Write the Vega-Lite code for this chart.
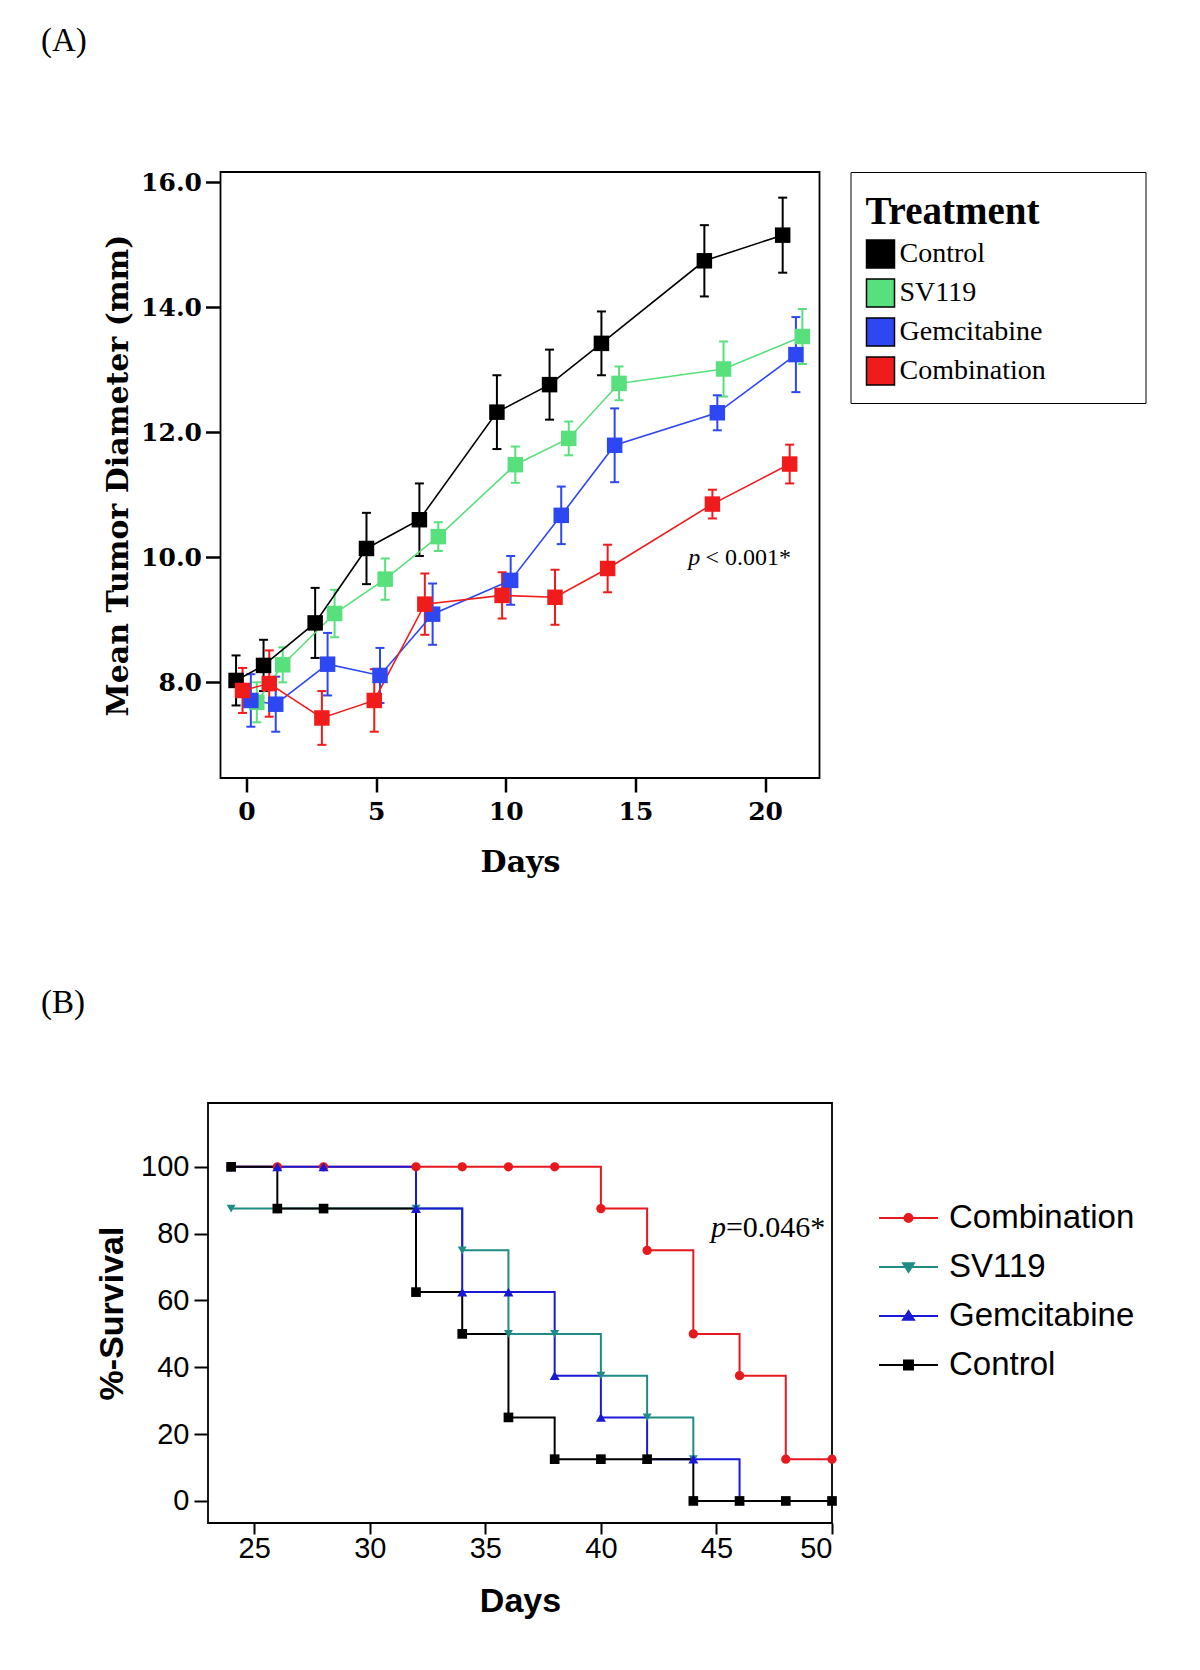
{
  "$schema": "https://vega.github.io/schema/vega-lite/v6.json",
  "background": "white",
  "padding": {"left": 40, "top": 24, "right": 0, "bottom": 10},
  "config": {
    "view": {"stroke": "black", "strokeWidth": 1.8},
    "axis": {"grid": false, "domain": false, "tickColor": "black", "labelColor": "black", "titleColor": "black"}
  },
  "datasets": {
    "tumor": [
      {"treat": "Control", "day": -0.4, "mean": 8.03, "lo": 7.63, "hi": 8.43},
      {"treat": "Control", "day": 0.66, "mean": 8.27, "lo": 7.86, "hi": 8.68},
      {"treat": "Control", "day": 2.65, "mean": 8.95, "lo": 8.39, "hi": 9.51},
      {"treat": "Control", "day": 4.63, "mean": 10.14, "lo": 9.57, "hi": 10.71},
      {"treat": "Control", "day": 6.67, "mean": 10.6, "lo": 10.02, "hi": 11.18},
      {"treat": "Control", "day": 9.66, "mean": 12.32, "lo": 11.73, "hi": 12.91},
      {"treat": "Control", "day": 11.69, "mean": 12.76, "lo": 12.2, "hi": 13.32},
      {"treat": "Control", "day": 13.69, "mean": 13.42, "lo": 12.91, "hi": 13.93},
      {"treat": "Control", "day": 17.66, "mean": 14.74, "lo": 14.17, "hi": 15.31},
      {"treat": "Control", "day": 20.68, "mean": 15.15, "lo": 14.55, "hi": 15.75},
      {"treat": "SV119", "day": 0.4, "mean": 7.68, "lo": 7.36, "hi": 8.0},
      {"treat": "SV119", "day": 1.4, "mean": 8.28, "lo": 8.0, "hi": 8.56},
      {"treat": "SV119", "day": 3.4, "mean": 9.1, "lo": 8.72, "hi": 9.48},
      {"treat": "SV119", "day": 5.35, "mean": 9.65, "lo": 9.32, "hi": 9.98},
      {"treat": "SV119", "day": 7.4, "mean": 10.33, "lo": 10.1, "hi": 10.56},
      {"treat": "SV119", "day": 10.37, "mean": 11.48, "lo": 11.19, "hi": 11.77},
      {"treat": "SV119", "day": 12.43, "mean": 11.9, "lo": 11.63, "hi": 12.17},
      {"treat": "SV119", "day": 14.37, "mean": 12.78, "lo": 12.51, "hi": 13.05},
      {"treat": "SV119", "day": 18.4, "mean": 13.01, "lo": 12.57, "hi": 13.45},
      {"treat": "SV119", "day": 21.44, "mean": 13.53, "lo": 13.09, "hi": 13.97},
      {"treat": "Gemcitabine", "day": 0.17, "mean": 7.71, "lo": 7.29, "hi": 8.13},
      {"treat": "Gemcitabine", "day": 1.13, "mean": 7.65, "lo": 7.21, "hi": 8.09},
      {"treat": "Gemcitabine", "day": 3.13, "mean": 8.29, "lo": 7.79, "hi": 8.79},
      {"treat": "Gemcitabine", "day": 5.15, "mean": 8.11, "lo": 7.67, "hi": 8.55},
      {"treat": "Gemcitabine", "day": 7.18, "mean": 9.09, "lo": 8.6, "hi": 9.58},
      {"treat": "Gemcitabine", "day": 10.19, "mean": 9.63, "lo": 9.24, "hi": 10.02},
      {"treat": "Gemcitabine", "day": 12.14, "mean": 10.67, "lo": 10.21, "hi": 11.13},
      {"treat": "Gemcitabine", "day": 14.2, "mean": 11.79, "lo": 11.2, "hi": 12.38},
      {"treat": "Gemcitabine", "day": 18.16, "mean": 12.31, "lo": 12.03, "hi": 12.59},
      {"treat": "Gemcitabine", "day": 21.19, "mean": 13.24, "lo": 12.64, "hi": 13.84},
      {"treat": "Combination", "day": -0.15, "mean": 7.87, "lo": 7.51, "hi": 8.23},
      {"treat": "Combination", "day": 0.88, "mean": 7.98, "lo": 7.45, "hi": 8.51},
      {"treat": "Combination", "day": 2.91, "mean": 7.43, "lo": 7.0, "hi": 7.86},
      {"treat": "Combination", "day": 4.93, "mean": 7.71, "lo": 7.21, "hi": 8.21},
      {"treat": "Combination", "day": 6.88, "mean": 9.25, "lo": 8.76, "hi": 9.74},
      {"treat": "Combination", "day": 9.86, "mean": 9.39, "lo": 9.02, "hi": 9.76},
      {"treat": "Combination", "day": 11.9, "mean": 9.36, "lo": 8.92, "hi": 9.8},
      {"treat": "Combination", "day": 13.93, "mean": 9.82, "lo": 9.44, "hi": 10.2},
      {"treat": "Combination", "day": 17.97, "mean": 10.85, "lo": 10.62, "hi": 11.08},
      {"treat": "Combination", "day": 20.95, "mean": 11.49, "lo": 11.18, "hi": 11.8}
    ],
    "surv": [
      {"grp": "Combination", "day": 24, "pct": 100},
      {"grp": "Combination", "day": 26, "pct": 100},
      {"grp": "Combination", "day": 28, "pct": 100},
      {"grp": "Combination", "day": 32, "pct": 100},
      {"grp": "Combination", "day": 34, "pct": 100},
      {"grp": "Combination", "day": 36, "pct": 100},
      {"grp": "Combination", "day": 38, "pct": 100},
      {"grp": "Combination", "day": 40, "pct": 87.5},
      {"grp": "Combination", "day": 42, "pct": 75},
      {"grp": "Combination", "day": 44, "pct": 50},
      {"grp": "Combination", "day": 46, "pct": 37.5},
      {"grp": "Combination", "day": 48, "pct": 12.5},
      {"grp": "Combination", "day": 50, "pct": 12.5},
      {"grp": "SV119", "day": 24, "pct": 87.5},
      {"grp": "SV119", "day": 26, "pct": 87.5},
      {"grp": "SV119", "day": 28, "pct": 87.5},
      {"grp": "SV119", "day": 32, "pct": 87.5},
      {"grp": "SV119", "day": 34, "pct": 75},
      {"grp": "SV119", "day": 36, "pct": 50},
      {"grp": "SV119", "day": 38, "pct": 50},
      {"grp": "SV119", "day": 40, "pct": 37.5},
      {"grp": "SV119", "day": 42, "pct": 25},
      {"grp": "SV119", "day": 44, "pct": 12.5},
      {"grp": "Gemcitabine", "day": 24, "pct": 100},
      {"grp": "Gemcitabine", "day": 26, "pct": 100},
      {"grp": "Gemcitabine", "day": 28, "pct": 100},
      {"grp": "Gemcitabine", "day": 32, "pct": 87.5},
      {"grp": "Gemcitabine", "day": 34, "pct": 62.5},
      {"grp": "Gemcitabine", "day": 36, "pct": 62.5},
      {"grp": "Gemcitabine", "day": 38, "pct": 37.5},
      {"grp": "Gemcitabine", "day": 40, "pct": 25},
      {"grp": "Gemcitabine", "day": 42, "pct": 12.5},
      {"grp": "Gemcitabine", "day": 44, "pct": 12.5},
      {"grp": "Gemcitabine", "day": 46, "pct": 0},
      {"grp": "Control", "day": 24, "pct": 100},
      {"grp": "Control", "day": 26, "pct": 87.5},
      {"grp": "Control", "day": 28, "pct": 87.5},
      {"grp": "Control", "day": 32, "pct": 62.5},
      {"grp": "Control", "day": 34, "pct": 50},
      {"grp": "Control", "day": 36, "pct": 25},
      {"grp": "Control", "day": 38, "pct": 12.5},
      {"grp": "Control", "day": 40, "pct": 12.5},
      {"grp": "Control", "day": 42, "pct": 12.5},
      {"grp": "Control", "day": 44, "pct": 0},
      {"grp": "Control", "day": 46, "pct": 0},
      {"grp": "Control", "day": 48, "pct": 0},
      {"grp": "Control", "day": 50, "pct": 0}
    ]
  },
  "concat": [
    {
      "width": 599,
      "height": 606,
      "title": {"text": "(A)", "anchor": "start", "frame": "group", "dx": -179.5, "offset": 112, "font": "Liberation Serif", "fontSize": 33, "fontWeight": "normal", "color": "black"},
      "layer": [
        {
          "data": {"name": "tumor"},
          "mark": {"type": "rule", "strokeWidth": 2},
          "encoding": {
            "x": {"field": "day", "type": "quantitative", "scale": {"domain": [-1, 22.1], "nice": false, "zero": false},
              "axis": {"values": [0, 5, 10, 15, 20], "labelFont": "DejaVu Serif", "labelFontWeight": "bold", "labelFontSize": 25, "labelPadding": 7, "tickSize": 14, "tickWidth": 2.5, "title": "Days", "titleFont": "DejaVu Serif", "titleFontWeight": "bold", "titleFontSize": 30, "titlePadding": 23}},
            "y": {"field": "lo", "type": "quantitative", "scale": {"domain": [6.47, 16.16], "nice": false, "zero": false},
              "axis": {"values": [8, 10, 12, 14, 16], "format": ".1f", "labelFont": "DejaVu Serif", "labelFontWeight": "bold", "labelFontSize": 25, "labelPadding": 4, "tickSize": 15, "tickWidth": 2.5, "title": "Mean Tumor Diameter (mm)", "titleFont": "DejaVu Serif", "titleFontWeight": "bold", "titleFontSize": 30, "titlePadding": 7}},
            "y2": {"field": "hi"},
            "stroke": {"field": "treat", "type": "nominal", "scale": {"domain": ["Combination", "Gemcitabine", "SV119", "Control"], "range": ["#f01c1c", "#2d47f2", "#58e07c", "#000000"]}, "legend": null}
          }
        },
        {
          "data": {"name": "tumor"},
          "mark": {"type": "point", "shape": "stroke", "filled": false, "size": 81, "strokeWidth": 2, "opacity": 1},
          "encoding": {
            "x": {"field": "day", "type": "quantitative", "scale": {"domain": [-1, 22.1], "nice": false, "zero": false}},
            "y": {"field": "lo", "type": "quantitative", "scale": {"domain": [6.47, 16.16], "nice": false, "zero": false}},
            "stroke": {"field": "treat", "type": "nominal", "scale": {"domain": ["Combination", "Gemcitabine", "SV119", "Control"], "range": ["#f01c1c", "#2d47f2", "#58e07c", "#000000"]}, "legend": null}
          }
        },
        {
          "data": {"name": "tumor"},
          "mark": {"type": "point", "shape": "stroke", "filled": false, "size": 81, "strokeWidth": 2, "opacity": 1},
          "encoding": {
            "x": {"field": "day", "type": "quantitative", "scale": {"domain": [-1, 22.1], "nice": false, "zero": false}},
            "y": {"field": "hi", "type": "quantitative", "scale": {"domain": [6.47, 16.16], "nice": false, "zero": false}},
            "stroke": {"field": "treat", "type": "nominal", "scale": {"domain": ["Combination", "Gemcitabine", "SV119", "Control"], "range": ["#f01c1c", "#2d47f2", "#58e07c", "#000000"]}, "legend": null}
          }
        },
        {
          "data": {"name": "tumor"},
          "mark": {"type": "line", "strokeWidth": 1.6},
          "encoding": {
            "x": {"field": "day", "type": "quantitative", "scale": {"domain": [-1, 22.1], "nice": false, "zero": false}},
            "y": {"field": "mean", "type": "quantitative", "scale": {"domain": [6.47, 16.16], "nice": false, "zero": false}},
            "stroke": {"field": "treat", "type": "nominal", "scale": {"domain": ["Combination", "Gemcitabine", "SV119", "Control"], "range": ["#f01c1c", "#2d47f2", "#58e07c", "#000000"]}, "legend": null}
          }
        },
        {
          "data": {"name": "tumor"},
          "mark": {"type": "point", "shape": "square", "filled": true, "size": 240, "opacity": 1},
          "encoding": {
            "x": {"field": "day", "type": "quantitative", "scale": {"domain": [-1, 22.1], "nice": false, "zero": false}},
            "y": {"field": "mean", "type": "quantitative", "scale": {"domain": [6.47, 16.16], "nice": false, "zero": false}},
            "color": {"field": "treat", "type": "nominal", "scale": {"domain": ["Control", "SV119", "Gemcitabine", "Combination"], "range": ["#000000", "#58e07c", "#2d47f2", "#f01c1c"]},
              "legend": {"orient": "right", "offset": 31, "title": "Treatment", "titleFont": "Liberation Serif", "titleFontSize": 39, "titleFontWeight": "bold", "titleColor": "black", "titleBaseline": "line-top", "titleLineHeight": 51, "titlePadding": 13, "padding": 15, "strokeColor": "black", "fillColor": "white", "labelFont": "Liberation Serif", "labelFontSize": 28, "labelColor": "black", "symbolType": "square", "symbolSize": 784, "symbolStrokeColor": "black", "symbolStrokeWidth": 1.5, "labelOffset": 4, "rowPadding": 5, "labelLimit": 400, "labelExpr": "datum.label + '\u00a0\u00a0\u00a0\u00a0\u00a0\u00a0\u00a0\u00a0\u00a0\u00a0\u00a0\u00a0\u200b'",
                "encode": {"symbols": {
                  "size": {"value": 784},
                  "stroke": {"value": "black"},
                  "strokeWidth": {"value": 1.5}
                }}}}
          }
        },
        {
          "data": {"values": [{"day": 17.5, "mean": 9.98, "t": "p"}]},
          "mark": {"type": "text", "font": "Liberation Serif", "fontStyle": "italic", "fontSize": 24, "align": "right", "baseline": "middle", "color": "black"},
          "encoding": {
            "x": {"field": "day", "type": "quantitative", "scale": {"domain": [-1, 22.1], "nice": false, "zero": false}},
            "y": {"field": "mean", "type": "quantitative", "scale": {"domain": [6.47, 16.16], "nice": false, "zero": false}},
            "text": {"field": "t"}
          }
        },
        {
          "data": {"values": [{"day": 17.7, "mean": 9.98, "t": "< 0.001*"}]},
          "mark": {"type": "text", "font": "Liberation Serif", "fontSize": 24, "align": "left", "baseline": "middle", "color": "black"},
          "encoding": {
            "x": {"field": "day", "type": "quantitative", "scale": {"domain": [-1, 22.1], "nice": false, "zero": false}},
            "y": {"field": "mean", "type": "quantitative", "scale": {"domain": [6.47, 16.16], "nice": false, "zero": false}},
            "text": {"field": "t"}
          }
        }
      ]
    },
    {
      "width": 624,
      "height": 420,
      "title": {"text": "(B)", "anchor": "start", "frame": "group", "dx": -167, "offset": 83, "font": "Liberation Serif", "fontSize": 33, "fontWeight": "normal", "color": "black"},
      "resolve": {"scale": {"stroke": "independent", "shape": "independent", "color": "independent", "fill": "independent", "size": "independent"}},
      "layer": [
        {
          "data": {"name": "surv"},
          "mark": {"type": "line", "interpolate": "step-after", "strokeWidth": 2},
          "encoding": {
            "x": {"field": "day", "type": "quantitative", "scale": {"domain": [23, 50], "nice": false, "zero": false},
              "axis": {"values": [25, 30, 35, 40, 45, 50], "labelFont": "Liberation Sans", "labelFontSize": 29, "labelPadding": 0, "tickSize": 11, "tickWidth": 2, "title": "Days", "titleFont": "Liberation Sans", "titleFontWeight": "bold", "titleFontSize": 34, "titlePadding": 21}},
            "y": {"field": "pct", "type": "quantitative", "scale": {"domain": [-6.6, 119.1], "nice": false, "zero": false},
              "axis": {"values": [0, 20, 40, 60, 80, 100], "labelFont": "Liberation Sans", "labelFontSize": 29, "labelPadding": 5, "tickSize": 14, "tickWidth": 2, "title": "%-Survival", "titleFont": "Liberation Sans", "titleFontWeight": "bold", "titleFontSize": 34, "titlePadding": 11}},
            "stroke": {"field": "grp", "type": "nominal", "scale": {"domain": ["Control", "Gemcitabine", "SV119", "Combination"], "range": ["#000000", "#1a1ad6", "#1f8c86", "#e8191e"]}, "legend": null}
          }
        },
        {
          "data": {"name": "surv"},
          "mark": {"type": "point", "filled": true, "opacity": 1},
          "encoding": {
            "x": {"field": "day", "type": "quantitative", "scale": {"domain": [23, 50], "nice": false, "zero": false}},
            "y": {"field": "pct", "type": "quantitative", "scale": {"domain": [-6.6, 119.1], "nice": false, "zero": false}},
            "fill": {"field": "grp", "type": "nominal", "scale": {"domain": ["Control", "Gemcitabine", "SV119", "Combination"], "range": ["#000000", "#1a1ad6", "#1f8c86", "#e8191e"]}, "legend": null},
            "shape": {"field": "grp", "type": "nominal", "scale": {"domain": ["Control", "Gemcitabine", "SV119", "Combination"], "range": ["square", "triangle-up", "triangle-down", "circle"]}, "legend": null},
            "size": {"field": "grp", "type": "nominal", "scale": {"domain": ["Gemcitabine", "Control", "Combination", "SV119"], "range": [100, 80, 45, 90]}, "legend": null}
          }
        },
        {
          "data": {"name": "surv"},
          "transform": [{"filter": "datum.day > 1000"}],
          "mark": {"type": "point", "filled": true, "opacity": 1, "size": 2025, "strokeWidth": 2},
          "encoding": {
            "x": {"field": "day", "type": "quantitative", "scale": {"domain": [23, 50], "nice": false, "zero": false}},
            "y": {"field": "pct", "type": "quantitative", "scale": {"domain": [-6.6, 119.1], "nice": false, "zero": false}},
            "color": {"field": "grp", "type": "nominal", "scale": {"domain": ["Combination", "SV119", "Gemcitabine", "Control"], "range": ["#e8191e", "#1f8c86", "#1a1ad6", "#000000"]},
              "legend": {"orient": "none", "legendX": 677, "legendY": 91.5, "title": null, "padding": 0, "labelFont": "Liberation Sans", "labelFontSize": 33, "labelColor": "black", "labelLimit": 400, "symbolSize": 2025, "symbolStrokeWidth": 2, "symbolOpacity": 1, "labelOffset": 17, "rowPadding": 8}},
            "stroke": {"field": "grp", "type": "nominal", "scale": {"domain": ["Combination", "SV119", "Gemcitabine", "Control"], "range": ["#e8191e", "#1f8c86", "#1a1ad6", "#000000"]}},
            "shape": {"field": "grp", "type": "nominal", "scale": {"domain": ["Combination", "SV119", "Gemcitabine", "Control"], "range": ["M-1.31,0H1.31M-0.18,0A0.18,0.18,0,1,0,0.18,0A0.18,0.18,0,1,0,-0.18,0Z", "M-1.31,0H1.31M-0.24,-0.17L0.24,-0.17L0,0.22Z", "M-1.31,0H1.31M-0.24,0.17L0.24,0.17L0,-0.22Z", "M-1.31,0H1.31M-0.2,-0.2H0.2V0.2H-0.2Z"]}}
          }
        },
        {
          "data": {"values": [{"day": 45.41, "pct": 81.7, "t": "p"}]},
          "mark": {"type": "text", "font": "Liberation Serif", "fontStyle": "italic", "fontSize": 30, "align": "right", "baseline": "middle", "color": "black"},
          "encoding": {
            "x": {"field": "day", "type": "quantitative", "scale": {"domain": [23, 50], "nice": false, "zero": false}},
            "y": {"field": "pct", "type": "quantitative", "scale": {"domain": [-6.6, 119.1], "nice": false, "zero": false}},
            "text": {"field": "t"}
          }
        },
        {
          "data": {"values": [{"day": 45.41, "pct": 81.7, "t": "=0.046*"}]},
          "mark": {"type": "text", "font": "Liberation Serif", "fontSize": 30, "align": "left", "baseline": "middle", "color": "black"},
          "encoding": {
            "x": {"field": "day", "type": "quantitative", "scale": {"domain": [23, 50], "nice": false, "zero": false}},
            "y": {"field": "pct", "type": "quantitative", "scale": {"domain": [-6.6, 119.1], "nice": false, "zero": false}},
            "text": {"field": "t"}
          }
        }
      ]
    }
  ],
  "columns": 1,
  "bounds": "flush",
  "center": true,
  "spacing": 325,
  "resolve": {
    "scale": {"x": "independent", "y": "independent", "color": "independent", "stroke": "independent", "shape": "independent", "size": "independent"},
    "legend": {"color": "independent", "stroke": "independent", "shape": "independent", "size": "independent"}
  }
}
